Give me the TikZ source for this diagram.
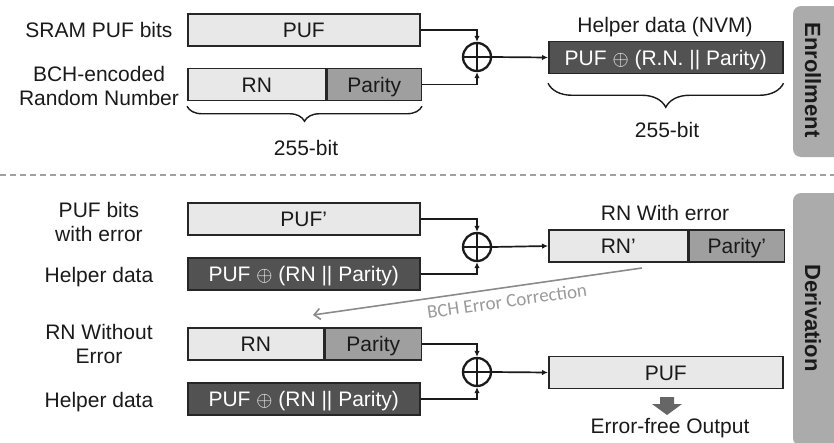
\documentclass[tikz,border=0pt]{standalone}
\usepackage{fontspec}
\setmainfont{Liberation Sans}
\newfontfamily\calib{Carlito}
\usetikzlibrary{arrows.meta,decorations.pathreplacing,calc}
\definecolor{lightf}{HTML}{E8E8E8}
\definecolor{parf}{HTML}{9F9F9F}
\definecolor{darkf}{HTML}{525252}
\definecolor{tabf}{HTML}{ABABAB}
\definecolor{boxline}{HTML}{262626}
\definecolor{sepgray}{HTML}{A0A0A0}
\definecolor{bchline}{HTML}{8A8A8A}
\definecolor{bchtext}{HTML}{9A9A9A}
\definecolor{fatgray}{HTML}{666666}
\definecolor{ink}{HTML}{1A1A1A}
\begin{document}
\begin{tikzpicture}[x=1pt,y=-1pt,
  every node/.style={font=\fontsize{21}{23.5}\selectfont, text=ink},
  box/.style={draw=boxline, line width=1.5pt, minimum height=32pt, inner sep=0pt, anchor=west,
    text height=15.5pt, text depth=0pt},
  lbox/.style={box, fill=lightf},
  pbox/.style={box, fill=parf},
  dbox/.style={box, fill=darkf, text=white},
  lbl/.style={align=center},
  xorc/.style={circle, draw=ink, line width=2.3pt, minimum size=28pt, inner sep=0pt,
    path picture={\draw[line width=2.2pt, ink]
      (path picture bounding box.north) -- (path picture bounding box.south)
      (path picture bounding box.west) -- (path picture bounding box.east);}},
  conn/.style={draw=ink, line width=1.7pt, -{Latex[length=6pt,width=5.5pt]}},
  brcA/.style={draw=ink, decorate, decoration={brace, mirror, amplitude=15pt}, line width=1.4pt},
  brcB/.style={draw=ink, decorate, decoration={brace, mirror, amplitude=24pt}, line width=1.4pt},
  sepline/.style={draw=sepgray, line width=1.4pt, dash pattern=on 6pt off 4pt},
  bcharrow/.style={draw=bchline, line width=1.6pt, -{Straight Barb[length=6pt,width=11pt]}},
  tablbl/.style={rotate=-90, font=\bfseries\fontsize{22}{24}\selectfont, text=ink},
]
\useasboundingbox (0,0) rectangle (834,442);

% ---------- tabs ----------
\fill[tabf] (834,6) [rounded corners=8pt] -- (793,6) -- (793,157) [sharp corners] -- (834,157) -- cycle;
\node[tablbl] (tabE) at (813,80) {Enrollment};
\fill[tabf] (834,193) [rounded corners=8pt] -- (793,193) -- (793,446) [sharp corners] -- (834,446) -- cycle;
\node[tablbl] (tabD) at (813,318) {Derivation};

% ---------- separator ----------
\coordinate (sepL) at (0,175);
\coordinate (sepR) at (834,175);
\draw[sepline] (sepL) -- (sepR);

% ---------- Enrollment ----------
\node[lbox, minimum width=232pt] (puf1) at (187,30) {PUF};
\node[lbox, minimum width=138pt] (rn1) at (187,84.5) {RN};
\node[pbox, minimum width=94pt] (par1) at (rn1.east) {Parity};
\node[xorc] (x1) at (477,57) {};
\node[dbox, minimum width=234pt] (hd1) at (548,57.5) {PUF $\oplus$ (R.N. || Parity)};

\draw[conn] (puf1.east) -| (x1.north);
\draw[conn] (par1.east) -| (x1.south);
\draw[conn] (x1.east) -- (hd1.west);

\node[anchor=base] (l1) at (99,37) {SRAM PUF bits};
\node[lbl] (l2) at (99,86) {BCH-encoded\\Random Number};
\node[anchor=base] (l3) at (665,32) {Helper data (NVM)};

\draw[brcA] ($(rn1.south west)+(0,5)$) -- ($(par1.south east)+(0,5)$);
\node[anchor=base] (b1) at (306,155) {255-bit};
\draw[brcB] ($(hd1.south west)+(0,9)$) -- ($(hd1.south east)+(0,9)$);
\node[anchor=base] (b2) at (667,137) {255-bit};

% ---------- Derivation ----------
\node[lbox, minimum width=232pt] (puf2) at (187,219) {PUF’};
\node[dbox, minimum width=232pt] (hd2) at (187,274) {PUF $\oplus$ (RN || Parity)};
\node[xorc] (x2) at (477,247) {};
\node[lbox, minimum width=139pt] (rnp) at (548,246) {RN’};
\node[pbox, minimum width=95pt] (parp) at (rnp.east) {Parity’};

\draw[conn] (puf2.east) -| (x2.north);
\draw[conn] (hd2.east) -| (x2.south);
\draw[conn] (x2.east) -- (rnp.west);

\node[lbox, minimum width=136pt] (rn3) at (187,344) {RN};
\node[pbox, minimum width=96pt] (par3) at (rn3.east) {Parity};
\node[dbox, minimum width=232pt] (hd3) at (187,399) {PUF $\oplus$ (RN || Parity)};
\node[xorc] (x3) at (477,372) {};
\node[lbox, minimum width=234pt] (pufo) at (548,372.5) {PUF};

\draw[conn] (par3.east) -| (x3.north);
\draw[conn] (hd3.east) -| (x3.south);
\draw[conn] (x3.east) -- (pufo.west);

\node[lbl] (l4) at (99,222) {PUF bits\\with error};
\node[anchor=base] (l5) at (99,282) {Helper data};
\node[lbl] (l6) at (99,344) {RN Without\\Error};
\node[anchor=base] (l7) at (99,407) {Helper data};
\node[anchor=base] (l8) at (665,220) {RN With error};
\node[anchor=base] (l9) at (670,433) {Error-free Output};

% BCH error correction arrow
\coordinate (bchS) at (642,268);
\coordinate (bchE) at (313,315);
\draw[bcharrow] (bchS) -- (bchE);
\node[rotate=8, font=\calib\fontsize{19}{22}\selectfont, text=bchtext] (bchl) at (507,301) {BCH Error Correction};

% output fat arrow
\fill[fatgray] (660,397) -- (674,397) -- (674,404) -- (682,404) -- (667,415) -- (652,404) -- (660,404) -- cycle;
\end{tikzpicture}
\end{document}
